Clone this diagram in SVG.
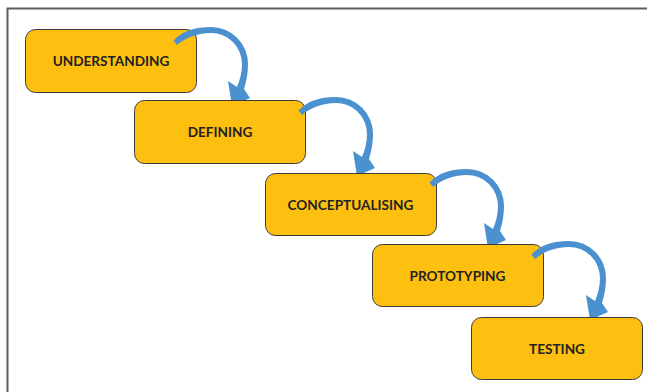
<svg xmlns="http://www.w3.org/2000/svg" xmlns:xlink="http://www.w3.org/1999/xlink" width="647" height="392" viewBox="0 0 647 392">
  <style>
    .frame { fill: none; stroke: #5e5e5e; stroke-width: 2; }
    .step rect { fill: #fdc010; stroke: #3a3a3a; stroke-width: 1; }
    .step text { font-family: Lato, "Liberation Sans", sans-serif; font-weight: bold; font-size: 13.6px; fill: #222; text-anchor: middle; }
    .flow { fill: #4b90cf; }
  </style>
  <defs>
    <!-- curved arrow, tail at the origin, head pointing down into the next step -->
    <path id="curl" d="M -1.5,-2.5 C 7,-12 20,-16 36,-16 A 37 37 0 0 1 73,21 C 73,30 71.5,38 69,46 L 75,55 L 57,63 L 53,38 L 62,44 C 65,37 67,29 67,21 A 31 31 0 0 0 36,-10 C 22,-10 10,-5 2,2 Z"/>
    <clipPath id="clip1"><rect x="0" y="0" width="647" height="100"/></clipPath>
    <clipPath id="clip2"><rect x="0" y="0" width="647" height="173"/></clipPath>
    <clipPath id="clip3"><rect x="0" y="0" width="647" height="244"/></clipPath>
    <clipPath id="clip4"><rect x="0" y="0" width="647" height="317"/></clipPath>
  </defs>

  <rect class="frame" x="7.5" y="8.5" width="700" height="450"/>

  <g id="understanding" class="step">
    <rect x="25.5" y="29.5" width="171" height="63" rx="10"/>
    <text x="111" y="66">UNDERSTANDING</text>
  </g>
  <g id="defining" class="step">
    <rect x="134.5" y="100.5" width="171" height="63" rx="10"/>
    <text x="220" y="137">DEFINING</text>
  </g>
  <g id="conceptualising" class="step">
    <rect x="265.5" y="173.5" width="171" height="62" rx="10"/>
    <text x="350.5" y="209.5">CONCEPTUALISING</text>
  </g>
  <g id="prototyping" class="step">
    <rect x="372.5" y="244.5" width="171" height="62" rx="10"/>
    <text x="457.5" y="281">PROTOTYPING</text>
  </g>
  <g id="testing" class="step">
    <rect x="471.5" y="317.5" width="171" height="62" rx="10"/>
    <text x="557" y="353.5">TESTING</text>
  </g>

  <g id="connectors" class="flow">
    <g clip-path="url(#clip1)"><use xlink:href="#curl" x="175" y="43"/></g>
    <g clip-path="url(#clip2)"><use xlink:href="#curl" x="300" y="113"/></g>
    <g clip-path="url(#clip3)"><use xlink:href="#curl" x="431" y="185"/></g>
    <g clip-path="url(#clip4)"><use xlink:href="#curl" x="533" y="257"/></g>
  </g>
</svg>
